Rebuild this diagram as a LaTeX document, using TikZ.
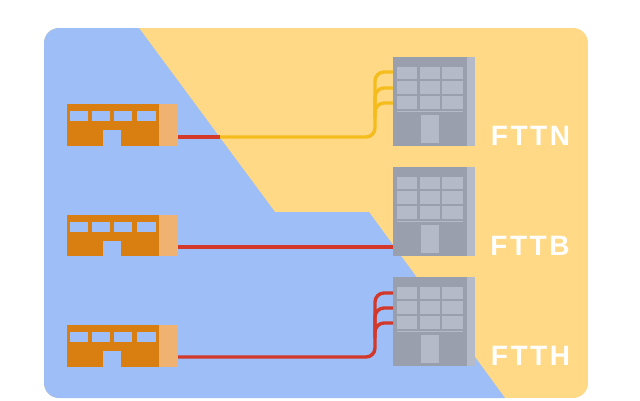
\documentclass[tikz,border=0pt]{standalone}
\usepackage{fontspec}
\setmainfont{Liberation Sans}
\newfontfamily\labelfont[LetterSpace=9]{Liberation Sans}
\definecolor{bluebg}{HTML}{9DBEF6}
\definecolor{yellowbg}{HTML}{FFD985}
\definecolor{orangedark}{HTML}{D97F12}
\definecolor{orangelight}{HTML}{F0B271}
\definecolor{graydark}{HTML}{9A9FAD}
\definecolor{graylight}{HTML}{B5BAC9}
\definecolor{fibrered}{HTML}{D2392B}
\definecolor{fibreyellow}{HTML}{F5BC1E}
\tikzset{
  box/.style={rectangle,inner sep=0pt,outer sep=0pt,minimum width=#1},
  fibre/.style={line width=3.4pt,rounded corners=9pt},
  redfibre/.style={fibre,draw=fibrered},
  yellowfibre/.style={fibre,draw=fibreyellow},
  taglabel/.style={font=\labelfont\bfseries\fontsize{28}{28}\selectfont,text=white,inner sep=0pt,anchor=center}
}
\begin{document}
\begin{tikzpicture}[x=1pt,y=-1pt]
\useasboundingbox (0,0) rectangle (640,400);
\fill[white] (0,0) rectangle (640,400);
\begin{scope}
  \clip[rounded corners=15pt] (44,28) rectangle (588,398);
  \fill[yellowbg] (44,28) rectangle (588,398);
  \fill[bluebg] (44,28) -- (139,28) -- (275,212) -- (369,212) -- (505,398) -- (44,398) -- cycle;
\end{scope}
% small buildings
\foreach \i/\dy in {1/0,2/110.5,3/221}{
  \begin{scope}[shift={(0,\dy)}]
    \node[box=19pt,minimum height=41.5pt,fill=orangelight] (src\i) at (168.5,125.2) {};
    \node[box=92pt,minimum height=41.5pt,fill=orangedark] (srcbody\i) at (113,125.2) {};
    \foreach \a/\b in {70/88,92/110,114/132,137/156}
      \fill[bluebg] (\a,111) rectangle (\b,121);
    \fill[bluebg] (103,130) rectangle (121,146);
  \end{scope}
}
% large buildings
\foreach \i/\dy in {1/0,2/110,3/220}{
  \begin{scope}[shift={(0,\dy)}]
    \node[box=82pt,minimum height=89pt,fill=graylight] (dst\i) at (434,101) {};
    \fill[graydark] (393,56.5) rectangle (467,145.5);
    \foreach \a/\b in {397/417,419.5/440,442/463}
      \foreach \c/\d in {67/79,81/94,96/109}
        \fill[graylight] (\a,\c) rectangle (\b,\d);
    \fill[graylight] (397,111) rectangle (463,112.2);
    \fill[graylight] (421,115) rectangle (439,143);
  \end{scope}
}
% junctions on the source and target edges
\coordinate (s1) at (src1.east |- 0,137);
\coordinate (s2) at (src2.east |- 0,247);
\coordinate (s3) at (src3.east |- 0,357);
\coordinate (j1) at (220,137);
\foreach \n/\y in {a/72,b/88,c/103}
  \coordinate (t1\n) at (dst1.west |- 0,\y);
\coordinate (t2) at (dst2.west |- 0,247);
\foreach \n/\y in {a/293,b/308,c/323}
  \coordinate (t3\n) at (dst3.west |- 0,\y);
% FTTN
\draw[redfibre] (s1) -- (j1);
\draw[yellowfibre] (j1) -- (375,137) -- (375,72) -- (t1a);
\draw[yellowfibre] (375,110) -- (375,88) -- (t1b);
\draw[yellowfibre] (375,118) -- (375,103) -- (t1c);
% FTTB
\draw[redfibre] (s2) -- (t2);
% FTTH
\draw[redfibre] (s3) -- (375,357) -- (375,293) -- (t3a);
\draw[redfibre] (375,330) -- (375,308) -- (t3b);
\draw[redfibre] (375,338) -- (375,323) -- (t3c);
% labels
\node[taglabel] (fttn) at (530.5,136) {FTTN};
\node[taglabel] (fttb) at (530,246) {FTTB};
\node[taglabel] (ftth) at (530.5,356) {FTTH};
\end{tikzpicture}
\end{document}
